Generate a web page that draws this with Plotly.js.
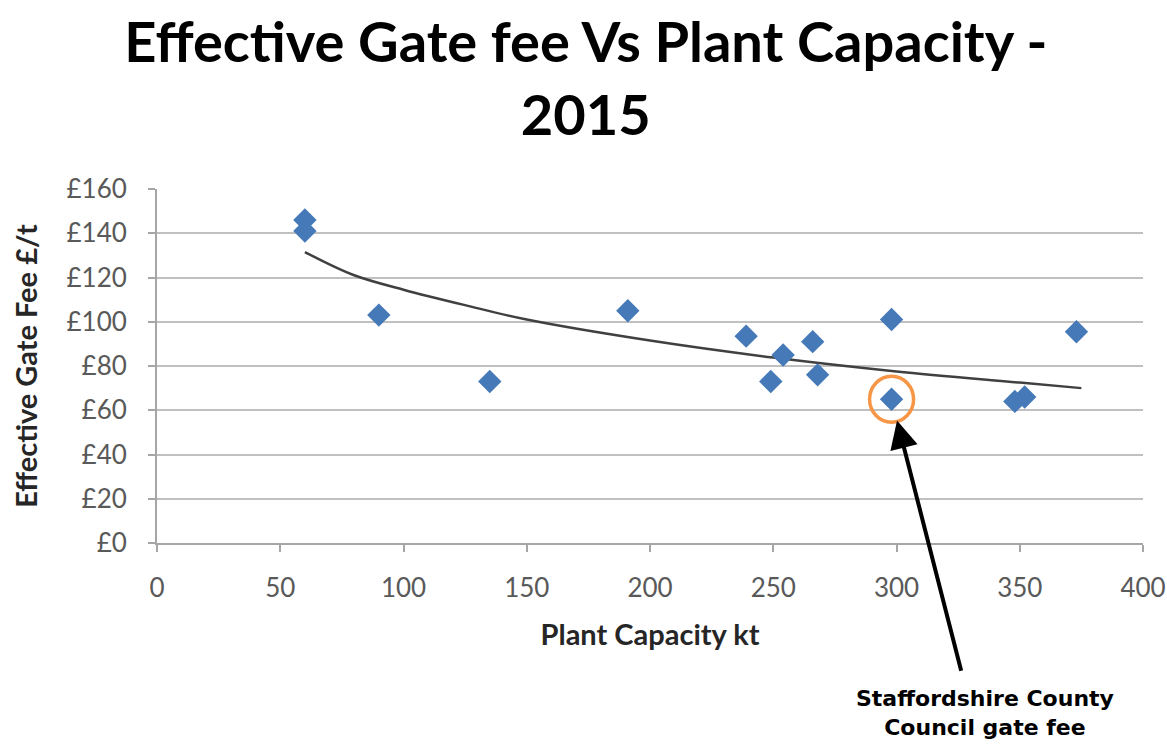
<!DOCTYPE html>
<html>
<head>
<meta charset="utf-8">
<script src="https://cdn.plot.ly/plotly-3.0.1.min.js"></script>
<style>html,body{margin:0;padding:0;background:#fff;}#chart{width:1167px;height:744px;}</style>
</head>
<body>
<div id="chart"></div>
<script>
// Plant capacity (kt) and effective gate fee (£/t), 2015
const capacity = [60, 60, 90, 135, 191, 239, 249, 254, 266, 268, 298, 298, 348, 352, 373];
const gateFee  = [146, 141, 103, 73, 105, 93.5, 73, 85, 91, 76, 101, 65, 64, 66, 95.5];

// Trend line as drawn on the original
const trendX = [60, 80, 100, 125, 150, 200, 250, 300, 350, 375];
const trendY = [131.5, 121, 114.5, 107.5, 101, 91.5, 83.8, 77.5, 72.5, 70];

// Highlighted plant
const staffsX = 298;
const staffsY = 65;
const staffsLabel = 'Staffordshire County<br>Council gate fee';

const titleText = 'Effective Gate fee Vs Plant Capacity -<br>2015';
const xTitle = 'Plant Capacity kt';
const yTitle = 'Effective Gate Fee £/t';

const traces = [
  {
    x: trendX, y: trendY, type: 'scatter', mode: 'lines',
    line: {color: '#404040', width: 2.5, shape: 'spline'},
    hoverinfo: 'skip', showlegend: false
  },
  {
    x: capacity, y: gateFee, type: 'scatter', mode: 'markers',
    marker: {symbol: 'diamond', size: 18, color: '#4579B8', line: {width: 0}},
    showlegend: false
  }
];

const plotTop = 189, plotBottom = 543, plotLeft = 157, plotRight = 1143;
const plotH = plotBottom - plotTop, plotW = plotRight - plotLeft;

const layout = {
  width: 1167, height: 744,
  margin: {l: plotLeft, r: 1167 - plotRight, t: plotTop, b: 744 - plotBottom},
  paper_bgcolor: '#ffffff', plot_bgcolor: '#ffffff',
  title: {
    text: titleText,
    font: {family: 'Lato', size: 56, color: '#000000', weight: 'bold'},
    xref: 'container', x: 0.502, xanchor: 'center',
    yref: 'container', y: 1 - 62/744, yanchor: 'top'
  },
  xaxis: {
    range: [0, 400], dtick: 50, tick0: 0,
    showgrid: false, zeroline: false,
    showline: true, linecolor: '#a6a6a6', linewidth: 2,
    ticks: 'outside', ticklen: 7, tickcolor: '#a6a6a6', tickwidth: 2,
    tickfont: {family: 'Lato', size: 26, color: '#595959'},
    ticklabelstandoff: 14,
    title: {text: xTitle, font: {family: 'Lato', size: 29, color: '#262626', weight: 'bold'}, standoff: 22},
    automargin: false
  },
  yaxis: {
    range: [0, 160], dtick: 20, tick0: 0, tickprefix: '£',
    showgrid: true, gridcolor: '#c0c0c0', gridwidth: 2,
    zeroline: false,
    showline: true, linecolor: '#a6a6a6', linewidth: 2,
    ticks: 'outside', ticklen: 7, tickcolor: '#a6a6a6', tickwidth: 2,
    tickfont: {family: 'Lato', size: 26, color: '#595959'},
    ticklabelstandoff: 16,
    title: {text: yTitle, font: {family: 'Lato', size: 29, color: '#262626', weight: 'bold'}, standoff: 20},
    automargin: false
  },
  shapes: [
    {
      type: 'circle', xref: 'x', yref: 'y',
      xsizemode: 'pixel', ysizemode: 'pixel',
      xanchor: staffsX, yanchor: staffsY,
      x0: -22, x1: 22, y0: -23, y1: 23,
      line: {color: '#F79646', width: 3.5}, layer: 'above'
    }
  ],
  annotations: [
    {
      x: staffsX, y: staffsY, xref: 'x', yref: 'y',
      text: '', showarrow: true,
      ax: 70, ay: 273, axref: 'pixel', ayref: 'pixel',
      standoff: 22, arrowhead: 2, arrowsize: 1.4, arrowwidth: 4, arrowcolor: '#000000'
    },
    {
      xref: 'paper', yref: 'paper',
      x: (985 - plotLeft) / plotW, y: (plotBottom - 713) / plotH,
      xanchor: 'center', yanchor: 'middle',
      text: staffsLabel, showarrow: false, align: 'center',
      font: {family: 'DejaVu Sans', size: 22, color: '#000000', weight: 'bold'}
    }
  ]
};

Plotly.newPlot('chart', traces, layout, {displayModeBar: false, staticPlot: true});
</script>
</body>
</html>
